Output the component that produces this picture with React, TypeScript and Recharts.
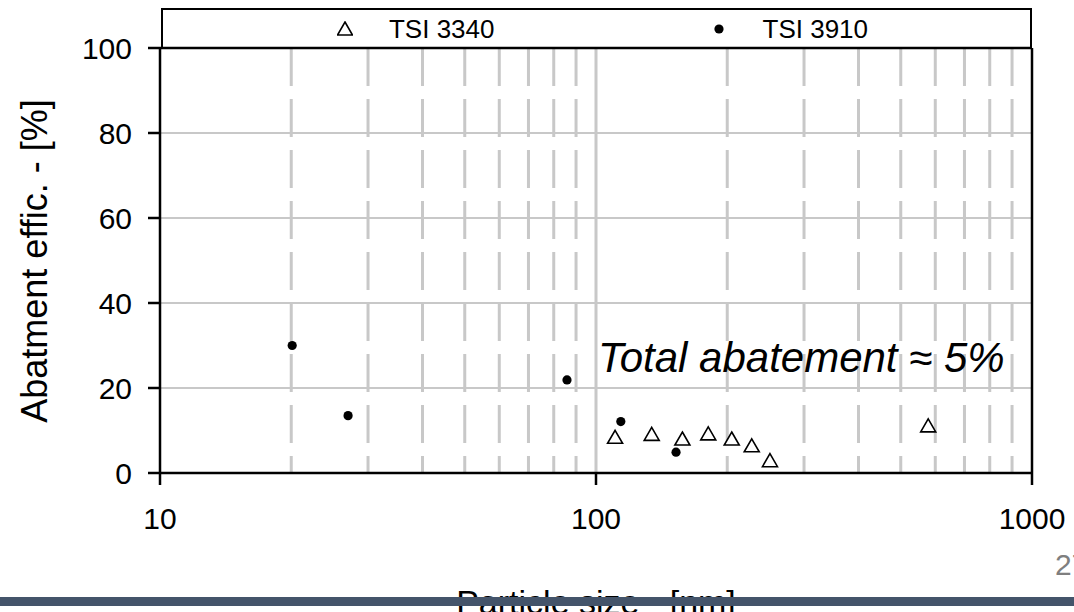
import React from 'react';
import {
  ScatterChart,
  Scatter,
  XAxis,
  YAxis,
  CartesianGrid,
  ReferenceLine,
  ReferenceDot,
  Legend,
} from 'recharts';

const FONT = '"Liberation Sans", Arial, sans-serif';

// series
const seriesNames = ['TSI 3340', 'TSI 3910'];
const size3340 = [110.6, 134.2, 157.8, 180.9, 204.8, 227.6, 250.6, 578];
const effic3340 = [8.4, 9.1, 8.0, 9.2, 8.0, 6.4, 2.9, 11.1];
const size3910 = [20.1, 27, 85.8, 114, 152.6];
const effic3910 = [30, 13.5, 21.9, 12.1, 4.9];

const xTicks = [10, 100, 1000];
const yTicks = [0, 20, 40, 60, 80, 100];
const minorX = [20, 30, 40, 50, 60, 70, 80, 90, 200, 300, 400, 500, 600, 700, 800, 900];
const note = 'Total abatement ≈ 5%';
const notePos = { x: 101, y: 23.8 };

const data3340 = size3340.map((x, i) => ({ x, y: effic3340[i] }));
const data3910 = size3910.map((x, i) => ({ x, y: effic3910[i] }));

const Triangle = (props: any) => {
  const { cx, cy } = props;
  return (
    <path
      d={`M${cx},${cy - 7} L${cx + 7.5},${cy + 6} L${cx - 7.5},${cy + 6} Z`}
      fill="#fff"
      stroke="#000"
      strokeWidth={1.6}
    />
  );
};

const Dot = (props: any) => {
  const { cx, cy } = props;
  return <circle cx={cx} cy={cy} r={4.6} fill="#000" />;
};

const renderLegend = (props: any) => {
  const { payload = [] } = props;
  return (
    <div
      style={{
        boxSizing: 'border-box',
        width: 871,
        height: 40,
        border: '2px solid #000',
        borderBottom: 'none',
        display: 'flex',
        alignItems: 'center',
        justifyContent: 'center',
        gap: 216,
        fontFamily: FONT,
        fontSize: 26,
        color: '#000',
      }}
    >
      {payload.map((entry: any, i: number) => (
        <div key={entry.value} style={{ display: 'flex', alignItems: 'center', marginLeft: i === 0 ? 12 : 0 }}>
          <svg width={16} height={16} style={{ marginRight: 36 }}>
            {i === 0 ? <Triangle cx={8} cy={8} /> : <Dot cx={8} cy={8} />}
          </svg>
          <span>{entry.value}</span>
        </div>
      ))}
    </div>
  );
};

const YLabel = () => (
  <text
    x={47}
    y={261}
    transform="rotate(-90 47 261)"
    textAnchor="middle"
    fontSize={36}
    fill="#000"
  >
    Abatment effic. - [%]
  </text>
);

const NoteLabel = (props: any) => {
  const { viewBox } = props;
  return (
    <text x={viewBox.x} y={viewBox.y} fontSize={42} fontStyle="italic" fill="#000">
      {note}
    </text>
  );
};

export default function App() {
  return (
    <div
      style={{
        position: 'absolute',
        left: 0,
        top: 0,
        width: 1074,
        height: 612,
        overflow: 'hidden',
        background: '#fff',
        fontFamily: FONT,
      }}
    >
      <ScatterChart width={1074} height={612} margin={{ top: 8, right: 42, bottom: 0, left: 0 }}>
        <CartesianGrid vertical={false} stroke="#c8c8c8" strokeWidth={2} />
        {minorX.map((v) => (
          <ReferenceLine
            key={v}
            x={v}
            stroke="#c8c8c8"
            strokeWidth={3}
            strokeDasharray="38 13"
            strokeDashoffset={21}
          />
        ))}
        <ReferenceLine x={100} stroke="#c8c8c8" strokeWidth={3} />
        <ReferenceLine x={1000} stroke="#000" strokeWidth={2.5} />
        <ReferenceLine y={100} stroke="#000" strokeWidth={2.5} />
        <XAxis
          type="number"
          dataKey="x"
          scale="log"
          domain={[10, 1000]}
          ticks={xTicks}
          allowDataOverflow
          height={139}
          tickSize={12}
          tickMargin={23}
          axisLine={{ stroke: '#000', strokeWidth: 2.5 }}
          tickLine={{ stroke: '#000', strokeWidth: 2.5 }}
          tick={{ fill: '#000', fontSize: 30 }}
          label={{ value: 'Particle size - [nm]', position: 'insideBottom', offset: -2, fontSize: 34, fill: '#000' }}
        />
        <YAxis
          type="number"
          dataKey="y"
          domain={[0, 100]}
          ticks={yTicks}
          width={160}
          tickSize={12}
          tickMargin={16}
          axisLine={{ stroke: '#000', strokeWidth: 2.5 }}
          tickLine={{ stroke: '#000', strokeWidth: 2.5 }}
          tick={{ fill: '#000', fontSize: 30 }}
          label={{ content: () => <YLabel /> }}
        />
        <Legend
          verticalAlign="top"
          align="left"
          content={renderLegend}
          wrapperStyle={{ top: 8, left: 161, width: 871 }}
        />
        <ReferenceDot x={notePos.x} y={notePos.y} r={0} stroke="none" label={<NoteLabel />} />
        <Scatter
          name={seriesNames[0]}
          data={data3340}
          legendType="triangle"
          shape={<Triangle />}
          isAnimationActive={false}
        />
        <Scatter
          name={seriesNames[1]}
          data={data3910}
          legendType="circle"
          shape={<Dot />}
          isAnimationActive={false}
        />
      </ScatterChart>
      <div
        style={{
          position: 'absolute',
          left: 0,
          top: 597,
          width: 1074,
          height: 9,
          background: '#44546a',
        }}
      />
      <div
        style={{
          position: 'absolute',
          left: 1055,
          top: 550,
          fontSize: 30,
          lineHeight: 1,
          color: '#7f7f7f',
          whiteSpace: 'nowrap',
        }}
      >
        27
      </div>
    </div>
  );
}
